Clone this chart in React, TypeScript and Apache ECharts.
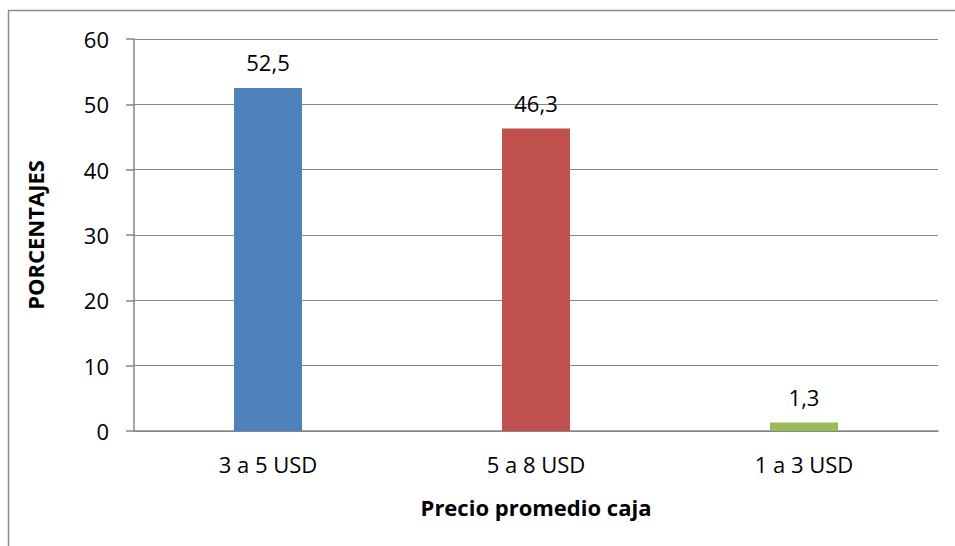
import React, { useEffect, useRef } from "react";
import * as echarts from "echarts";

const categories = ["3 a 5 USD", "5 a 8 USD", "1 a 3 USD"];
const values = [52.5, 46.3, 1.3];
const barColors = ["#4F81BD", "#C0504D", "#9BBB59"];
const yTicks = { min: 0, max: 60, interval: 10 };

const FONT = "'Open Sans', 'Liberation Sans', sans-serif";

export default function App() {
  const ref = useRef<HTMLDivElement>(null);
  useEffect(() => {
    if (!ref.current) return;
    const chart = echarts.init(ref.current, null, { renderer: "svg" });
    chart.setOption({
      animation: false,
      backgroundColor: "#ffffff",
      textStyle: { fontFamily: FONT },
      graphic: [
        {
          type: "rect",
          shape: { x: 8.5, y: 10.5, width: 1000, height: 600 },
          style: { fill: "none", stroke: "#8c8c8c", lineWidth: 1.5 },
          silent: true,
        },
      ],
      grid: { left: 134, right: 17, top: 39, bottom: 115 },
      xAxis: {
        type: "category",
        data: categories,
        axisLine: { lineStyle: { color: "#868686", width: 1.5 } },
        axisTick: { show: false },
        axisLabel: { color: "#000", fontSize: 22, margin: 22, fontFamily: FONT },
        name: "Precio promedio caja",
        nameLocation: "middle",
        nameGap: 65,
        nameTextStyle: { color: "#000", fontSize: 22, fontWeight: "bold", fontFamily: FONT },
      },
      yAxis: {
        type: "value",
        min: yTicks.min,
        max: yTicks.max,
        interval: yTicks.interval,
        axisLine: { show: true, lineStyle: { color: "#868686", width: 1.5 } },
        axisTick: { show: true, inside: false, length: 8, lineStyle: { color: "#868686", width: 1.5 } },
        splitLine: { lineStyle: { color: "#868686", width: 1.2 } },
        axisLabel: { color: "#000", fontSize: 22, margin: 25, fontFamily: FONT },
        name: "PORCENTAJES",
        nameLocation: "middle",
        nameGap: 88,
        nameTextStyle: { color: "#000", fontSize: 22, fontWeight: "bold", fontFamily: FONT },
      },
      series: [
        {
          type: "bar",
          barWidth: 68,
          data: values.map((v, i) => ({ value: v, itemStyle: { color: barColors[i] } })),
          label: {
            show: true,
            position: "top",
            distance: 15,
            color: "#000",
            fontSize: 22,
            fontFamily: FONT,
            formatter: (p: any) => String(p.value).replace(".", ","),
          },
        },
      ],
    });
    return () => chart.dispose();
  }, []);
  return (
    <div
      ref={ref}
      style={{ position: "fixed", left: 0, top: 0, width: 955, height: 546 }}
    />
  );
}
